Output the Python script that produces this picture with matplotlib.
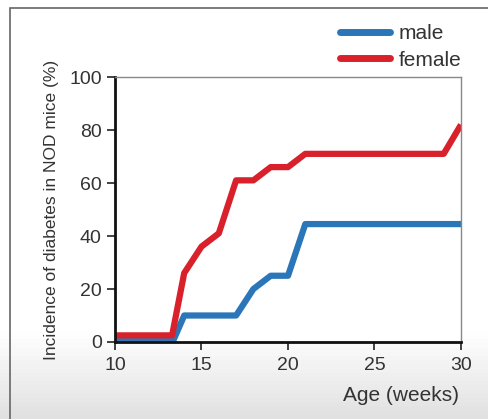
import numpy as np
import matplotlib.pyplot as plt
from matplotlib.patches import Rectangle

# data
male_age = [10, 13.4, 14, 17, 18, 19, 20, 21, 30]
male_inc = [1, 1, 10, 10, 20, 25, 25, 44.5, 44.5]
female_age = [10, 13.3, 14, 15, 16, 17, 18, 19, 20, 21, 29, 30]
female_inc = [2.5, 2.5, 26, 36, 41, 61, 61, 66, 66, 71, 71, 82]
xticks = [10, 15, 20, 25, 30]
yticks = [0, 20, 40, 60, 80, 100]

plt.rcParams['font.family'] = ['Liberation Sans', 'DejaVu Sans']

fig = plt.figure(figsize=(4.89, 4.19), dpi=100)

# soft grey background, darker towards the bottom (screenshot look)
bg = fig.add_axes([0, 0, 1, 1], zorder=-5)
grad = np.ones((100, 1))
grad[78:, 0] = np.linspace(1.0, 0.88, 22)
bg.imshow(grad, aspect='auto', cmap='gray', vmin=0, vmax=1, extent=[0, 1, 0, 1])
bg.set_axis_off()
fig.patches.append(Rectangle((10 / 489, -0.1), 2.0, 1.1 - 8 / 419, transform=fig.transFigure,
                             fill=False, edgecolor='#666666', linewidth=1.2))

ax = fig.add_axes([115 / 489, 1 - 342 / 419, 346 / 489, 265 / 419])
ax.set_facecolor('white')
blue = '#2a76b9'
red = '#d9212b'
ax.plot(male_age, male_inc, color=blue, lw=4.5, solid_capstyle='butt', label='male')
ax.plot(female_age, female_inc, color=red, lw=4.5, solid_capstyle='butt', label='female')

ax.set_xlim(10, 30)
ax.set_ylim(0, 100)
ax.set_xticks(xticks)
ax.set_yticks(yticks)
ax.tick_params(direction='out', length=6, width=1.2, labelsize=14, colors='#222222',
               labelcolor='#333333')
ax.tick_params(axis='x', pad=5)
for s in ['left', 'bottom']:
    ax.spines[s].set_linewidth(2)
    ax.spines[s].set_color('#111111')
for s in ['top', 'right']:
    ax.spines[s].set_linewidth(1)
    ax.spines[s].set_color('#888888')

ax.set_ylabel('Incidence of diabetes in NOD mice (%)', fontsize=12.5, color='#333333', labelpad=7)
ax.set_xlabel('Age (weeks)', fontsize=15, color='#333333')
ax.xaxis.set_label_coords(0.995, -0.165)
ax.xaxis.label.set_horizontalalignment('right')

leg = ax.legend(loc='lower right', bbox_to_anchor=(1.05, 0.965), frameon=False, fontsize=15,
                handlelength=2.4, handletextpad=0.45, labelspacing=0.35, borderaxespad=0.4,
                labelcolor='#333333')
for h in leg.get_lines():
    h.set_linewidth(5)
    h.set_solid_capstyle('round')

fig.savefig('out.png', dpi=100)
